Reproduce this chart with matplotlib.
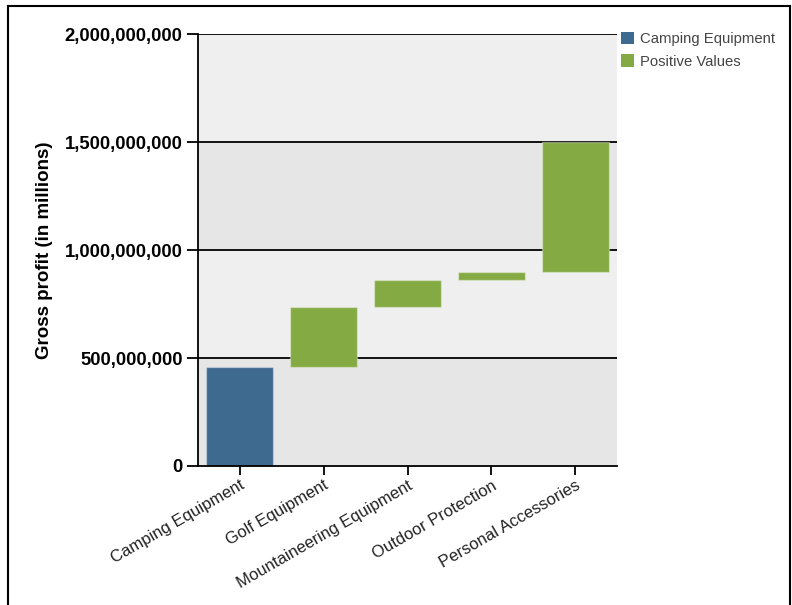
import numpy as np
import matplotlib
matplotlib.use("Agg")
import matplotlib.pyplot as plt
from matplotlib.patches import Patch
from matplotlib.lines import Line2D

plt.rcParams['font.family'] = ['Liberation Sans', 'DejaVu Sans']

# data (gross profit per product line, waterfall steps)
categories = ["Camping Equipment", "Golf Equipment", "Mountaineering Equipment",
              "Outdoor Protection", "Personal Accessories"]
steps = [458e6, 277e6, 126e6, 36e6, 603e6]
y_ticks = [0, 500e6, 1000e6, 1500e6, 2000e6]
y_tick_labels = ["0", "500,000,000", "1,000,000,000", "1,500,000,000", "2,000,000,000"]
legend_labels = ["Camping Equipment", "Positive Values"]

blue = "#3f6a90"
green = "#84aa43"

fig = plt.figure(figsize=(7.92, 6.05), dpi=100)
ax = fig.add_axes([198 / 792, 1 - 466 / 605, 419 / 792, 432 / 605])

# alternating background bands
for i in range(len(y_ticks) - 1):
    ax.axhspan(y_ticks[i], y_ticks[i + 1], color="#e6e6e6" if i % 2 == 0 else "#efefef",
               lw=0, zorder=0)
for t in y_ticks[1:]:
    ax.axhline(t, color="black", lw=1.3, zorder=1)

x = np.arange(len(categories))
bottoms = np.concatenate([[0], np.cumsum(steps)[:-1]])
colors = [blue] + [green] * (len(steps) - 1)
ax.bar(x, steps, bottom=bottoms, width=0.8, color=colors,
       edgecolor=(1, 1, 1, 0.35), linewidth=1, zorder=2)

ax.set_xlim(-0.5, len(categories) - 0.5)
ax.set_ylim(0, 2000e6)
ax.set_yticks(y_ticks)
ax.set_yticklabels(y_tick_labels, fontsize=13.3, fontweight="bold")
ax.set_xticks(x)
ax.set_xticklabels(categories, rotation=30, ha="right", va="top",
                   rotation_mode="anchor", fontsize=12, color="#222222")
ax.tick_params(axis="y", length=8, width=1.3, pad=3)
ax.tick_params(axis="x", length=6.5, width=1.3, pad=2)
for s in ["top", "right"]:
    ax.spines[s].set_visible(False)
for s in ["left", "bottom"]:
    ax.spines[s].set_linewidth(1.3)
ax.set_ylabel("Gross profit (in millions)", fontsize=13.5, fontweight="bold")
ax.yaxis.set_label_coords(-(198 - 53) / 419, 0.5)

handles = [Patch(facecolor=blue), Patch(facecolor=green)]
fig.legend(handles, legend_labels, loc="upper left", bbox_to_anchor=(615 / 792, 1 - 26 / 605),
           frameon=False, fontsize=10.7, handlelength=0.9, handleheight=0.9,
           handletextpad=0.4, labelspacing=0.55, borderaxespad=0, labelcolor="#444444")

# outer frame
for xs, ys in [([8, 8], [0, 599]), ([8, 790], [599, 599]), ([790, 790], [0, 599])]:
    fig.add_artist(Line2D(np.array(xs) / 792, np.array(ys) / 605, color="black", lw=1.5))

fig.savefig("out.png", dpi=100)
